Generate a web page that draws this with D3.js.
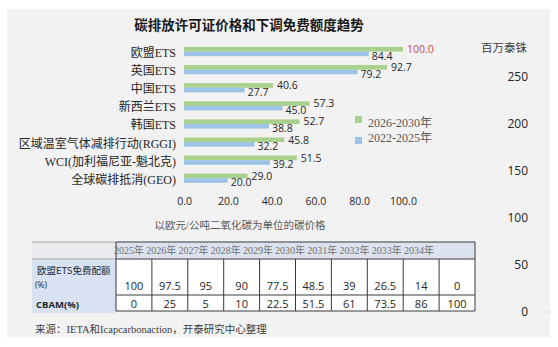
<!DOCTYPE html>
<html><head><meta charset="utf-8">
<script src="https://cdn.jsdelivr.net/npm/d3@7"></script>
<style>body{margin:0;background:#fff}svg{display:block}</style>
</head><body>
<script>
const categories = ["欧盟ETS","英国ETS","中国ETS","新西兰ETS","韩国ETS","区域温室气体减排行动(RGGI)","WCI(加利福尼亚-魁北克)","全球碳排抵消(GEO)"];
const price2026_2030 = [100.0, 92.7, 40.6, 57.3, 52.7, 45.8, 51.5, 29.0];
const price2022_2025 = [84.4, 79.2, 27.7, 45.0, 38.8, 32.2, 39.2, 20.0];
const seriesNames = ["2026-2030年","2022-2025年"];
const xTicks = [0, 20, 40, 60, 80, 100];
const rightTicks = [0, 50, 100, 150, 200, 250];
const years = ["2025年","2026年","2027年","2028年","2029年","2030年","2031年","2032年","2033年","2034年"];
const freeAllowance = ["100","97.5","95","90","77.5","48.5","39","26.5","14","0"];
const cbam = ["0","25","5","10","22.5","51.5","61","73.5","86","100"];

const W = 558, H = 347;
const serif = "'Liberation Serif','Noto Sans CJK SC',serif";
const sans = "'Open Sans','Noto Sans CJK SC',sans-serif";
const cjk = "'Noto Sans CJK SC',sans-serif";
const green = "#a9d18e", blue = "#9dc3e6";

const svg = d3.select("body").append("svg").attr("width", W).attr("height", H);
svg.append("rect").attr("x",7).attr("y",9).attr("width",543).attr("height",328).attr("fill","#f2f2f2");

svg.append("text").attr("x",249).attr("y",25).attr("text-anchor","middle").attr("dominant-baseline","central")
  .attr("font-family",serif).attr("font-weight","bold").attr("font-size",13.5).attr("fill","#1a1a1a")
  .text("碳排放许可证价格和下调免费额度趋势");

const x = d3.scaleLinear().domain([0,100]).range([184,403]);
const y = d3.scaleBand().domain(categories).range([42.5,187.3]);
const bh = 4.6;
const mid = d => y(d)+y.bandwidth()/2;

const g = svg.append("g");
g.selectAll("text.cat").data(categories).join("text").attr("class","cat")
  .attr("x",176).attr("y",d=>mid(d)+1.5).attr("text-anchor","end").attr("dominant-baseline","central")
  .attr("font-family",serif).attr("font-size",12).attr("fill","#262626").text(d=>d);

g.selectAll("rect.g").data(categories).join("rect").attr("class","g")
  .attr("x",x(0)).attr("y",d=>mid(d)-bh).attr("height",bh)
  .attr("width",(d,i)=>x(price2026_2030[i])-x(0)).attr("fill",green);
g.selectAll("rect.b").data(categories).join("rect").attr("class","b")
  .attr("x",x(0)).attr("y",d=>mid(d)).attr("height",bh)
  .attr("width",(d,i)=>x(price2022_2025[i])-x(0)).attr("fill",blue);

g.selectAll("text.gl").data(categories).join("text").attr("class","gl")
  .attr("x",(d,i)=>x(price2026_2030[i])+4).attr("y",d=>mid(d)-2.5)
  .attr("dominant-baseline","central").attr("font-family",sans).attr("font-size",10.5)
  .attr("fill",(d,i)=>i===0?"#c0504d":"#262626").text((d,i)=>price2026_2030[i].toFixed(1));
g.selectAll("text.bl").data(categories).join("text").attr("class","bl")
  .attr("x",(d,i)=>x(price2022_2025[i])+3).attr("y",d=>mid(d)+4)
  .attr("dominant-baseline","central").attr("font-family",sans).attr("font-size",10.5)
  .attr("fill","#262626").text((d,i)=>price2022_2025[i].toFixed(1));

const xa = svg.append("g").attr("transform","translate(0,198)")
  .call(d3.axisBottom(x).tickValues(xTicks).tickFormat(d3.format(".1f")).tickSize(0).tickPadding(0));
xa.select(".domain").remove();
xa.selectAll("text").attr("font-family",sans).attr("font-size",10.5).attr("fill","#262626");

svg.append("text").attr("x",240).attr("y",225).attr("text-anchor","middle").attr("dominant-baseline","central")
  .attr("font-family",serif).attr("font-size",10.5).attr("fill","#595959").text("以欧元/公吨二氧化碳为单位的碳价格");

const lg = svg.append("g");
[green, blue].forEach((c,i)=>{
  lg.append("rect").attr("x",355).attr("y",116+i*21).attr("width",7).attr("height",7).attr("fill",c);
  lg.append("text").attr("x",368).attr("y",123+i*15).attr("dominant-baseline","central")
    .attr("font-family",serif).attr("font-size",12).attr("fill","#595959").text(seriesNames[i]);
});

const yr = d3.scaleLinear().domain([0,250]).range([312,77]);
const ra = svg.append("g").attr("transform","translate(528,0)")
  .call(d3.axisLeft(yr).tickValues(rightTicks).tickSize(0).tickPadding(0));
ra.select(".domain").remove();
ra.selectAll("text").attr("font-family",sans).attr("font-size",12).attr("fill","#262626");
svg.append("text").attr("x",527).attr("y",47).attr("text-anchor","end").attr("dominant-baseline","central")
  .attr("font-family",cjk).attr("font-size",11.5).attr("fill","#404040").text("百万泰铢");
svg.append("line").attr("x1",541).attr("x2",550).attr("y1",yr(0)).attr("y2",yr(0)).attr("stroke","#dcdcdc");

const tx0 = 32, tx1 = 116, tx2 = 475;
const hy0 = 242, hy1 = 259, r1 = 295, r2 = 311;
const col = d3.scaleBand().domain(years).range([tx1,tx2]);
const hdr = d3.scalePoint().domain(years).range([129,419]);
const t = svg.append("g");
t.append("rect").attr("x",tx0).attr("y",hy0).attr("width",tx1-tx0).attr("height",hy1-hy0).attr("fill","#e9ebef");
t.append("rect").attr("x",tx1).attr("y",hy0).attr("width",tx2-tx1).attr("height",hy1-hy0).attr("fill","#dde3ee");
t.append("rect").attr("x",tx0).attr("y",hy1).attr("width",tx1-tx0).attr("height",r2+2-hy1).attr("fill","#d9e2f2");
t.append("rect").attr("x",tx1).attr("y",hy1).attr("width",tx2-tx1).attr("height",r2-hy1).attr("fill","#ffffff");
t.append("line").attr("x1",tx0).attr("x2",tx1).attr("y1",hy0).attr("y2",hy0).attr("stroke","#a6a6a6");
t.append("line").attr("x1",tx0).attr("x2",tx1).attr("y1",hy1).attr("y2",hy1).attr("stroke","#a6a6a6");
[hy0,hy1,r1,r2].forEach(yy=>t.append("line").attr("x1",tx1).attr("x2",tx2).attr("y1",yy).attr("y2",yy).attr("stroke","#3a3a3a"));
t.append("line").attr("x1",tx1).attr("x2",tx1).attr("y1",hy0).attr("y2",r2).attr("stroke","#3a3a3a");
t.append("line").attr("x1",tx2).attr("x2",tx2).attr("y1",hy0).attr("y2",r2).attr("stroke","#3a3a3a");
t.selectAll("line.v").data(years.slice(1)).join("line").attr("class","v")
  .attr("x1",d=>col(d)).attr("x2",d=>col(d)).attr("y1",hy1).attr("y2",r2).attr("stroke","#3a3a3a");
t.selectAll("text.h").data(years).join("text").attr("class","h")
  .attr("x",d=>hdr(d)).attr("y",(hy0+hy1)/2).attr("text-anchor","middle").attr("dominant-baseline","central")
  .attr("font-family",serif).attr("font-size",10).attr("fill","#707070").text(d=>d);
t.selectAll("text.r1").data(years).join("text").attr("class","r1")
  .attr("x",d=>col(d)+col.bandwidth()/2).attr("y",285).attr("text-anchor","middle").attr("dominant-baseline","central")
  .attr("font-family",sans).attr("font-size",11).attr("fill","#262626").text((d,i)=>freeAllowance[i]);
t.selectAll("text.r2").data(years).join("text").attr("class","r2")
  .attr("x",d=>col(d)+col.bandwidth()/2).attr("y",(r1+r2)/2).attr("text-anchor","middle").attr("dominant-baseline","central")
  .attr("font-family",sans).attr("font-size",11).attr("fill","#262626").text((d,i)=>cbam[i]);
t.append("text").attr("x",37).attr("y",270).attr("dominant-baseline","central")
  .attr("font-family",cjk).attr("font-size",9.5).attr("fill","#262626").text("欧盟ETS免费配额");
t.append("text").attr("x",35).attr("y",284.5).attr("dominant-baseline","central")
  .attr("font-family",sans).attr("font-size",8.5).attr("fill","#262626").text("(%)");
t.append("text").attr("x",36).attr("y",304).attr("dominant-baseline","central")
  .attr("font-family",sans).attr("font-weight","bold").attr("font-size",9.5).attr("fill","#262626").text("CBAM(%)");

svg.append("text").attr("x",35).attr("y",329).attr("dominant-baseline","central")
  .attr("font-family",serif).attr("font-size",10.5).attr("fill","#404040").text("来源：IETA和Icapcarbonaction，开泰研究中心整理");
</script>
</body></html>
